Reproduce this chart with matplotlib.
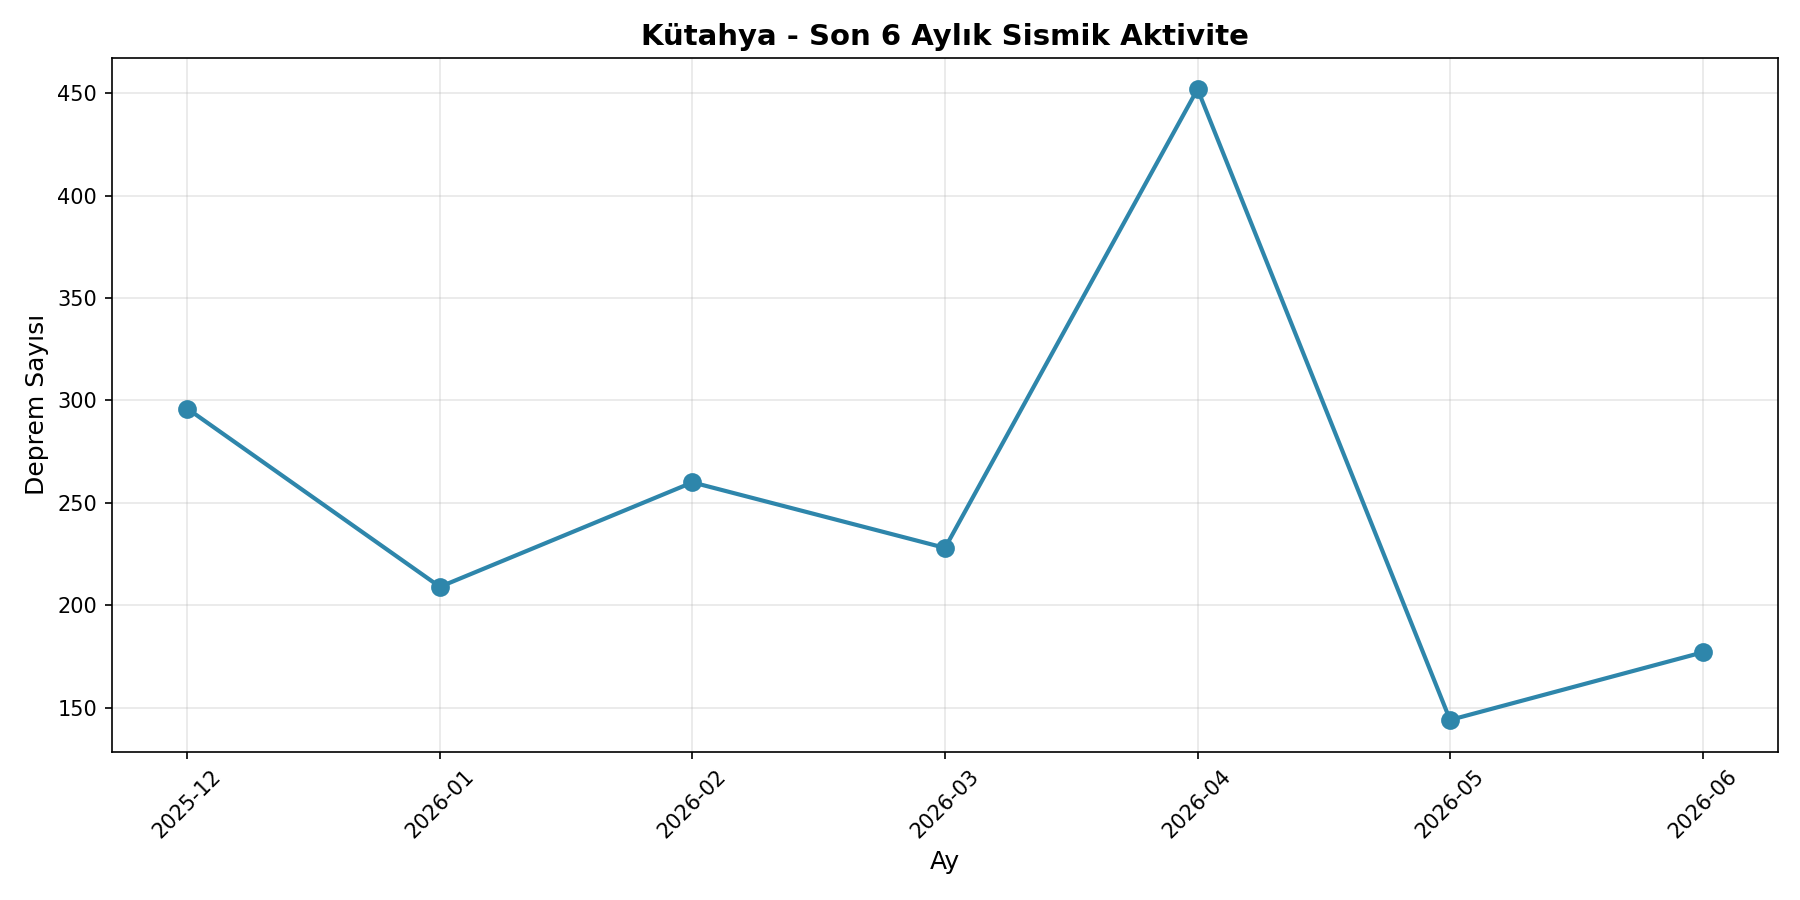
import matplotlib
matplotlib.use('Agg')
import matplotlib.pyplot as plt

# Monthly earthquake counts
months = ['2025-12', '2026-01', '2026-02', '2026-03', '2026-04', '2026-05', '2026-06']
counts = [296, 209, 260, 228, 452, 144, 177]

fig, ax = plt.subplots(figsize=(12, 6), dpi=150)
ax.plot(months, counts, marker='o', linewidth=2, markersize=8, color='#2E86AB')
ax.set_title('Kütahya - Son 6 Aylık Sismik Aktivite', fontsize=14, fontweight='bold')
ax.set_xlabel('Ay', fontsize=12)
ax.set_ylabel('Deprem Sayısı', fontsize=12)
ax.grid(True, alpha=0.3)
plt.xticks(rotation=45)
fig.subplots_adjust(left=0.062, right=0.988, top=0.936, bottom=0.165)
plt.savefig('out.png')
